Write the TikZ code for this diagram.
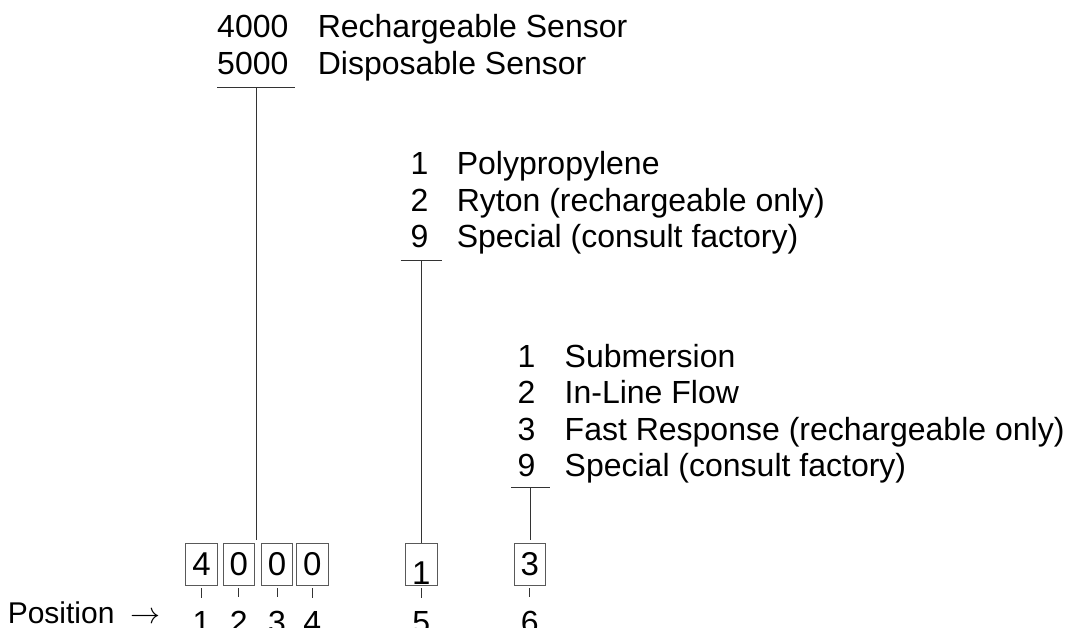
\RequirePackage{fix-cm}
\documentclass[tikz,border=0pt]{standalone}
\usepackage{fontspec}
\setmainfont{Liberation Sans}
\usetikzlibrary{positioning}
\tikzset{
  code/.style={anchor=base east, inner sep=0pt, font=\fontsize{32}{36}\selectfont},
  desc/.style={anchor=base west, inner sep=0pt, font=\fontsize{32}{36}\selectfont},
  digitbox/.style={
    rectangle, draw=black!65, line width=0.9pt,
    minimum width=31.5pt, minimum height=42pt, inner sep=0pt,
    text height=23pt, text depth=0pt,
    font=\fontsize{33}{36}\selectfont
  },
  posnum/.style={anchor=base, inner sep=0pt, font=\fontsize{32}{36}\selectfont},
  leader/.style={black!80, line width=0.9pt}
}

\begin{document}
\begin{tikzpicture}[x=1pt, y=-1pt]
  \useasboundingbox (0,0) rectangle (1068,627);

  % option lists
  \foreach \num/\txt [count=\i] in {4000/Rechargeable Sensor, 5000/Disposable Sensor}{
    \node[code] (sc\i) at (288.6,{37.7+36.4*(\i-1)}) {\num};
    \node[desc] (sd\i) at (317.6,{37.7+36.4*(\i-1)}) {\txt};
  }
  \foreach \num/\txt [count=\i] in {1/Polypropylene, 2/Ryton (rechargeable only), 9/Special (consult factory)}{
    \node[code] (mc\i) at (428.7,{174.3+36.8*(\i-1)}) {\num};
    \node[desc] (md\i) at (456.6,{174.3+36.8*(\i-1)}) {\txt};
  }
  \foreach \num/\txt [count=\i] in {1/Submersion, 2/In-Line Flow, 3/Fast Response (rechargeable only), 9/Special (consult factory)}{
    \node[code] (cc\i) at (535.5,{367.7+36.2*(\i-1)}) {\num};
    \node[desc] (cd\i) at (564.5,{367.7+36.2*(\i-1)}) {\txt};
  }

  % part number boxes
  \node[digitbox] (d1) at (201.6,564) {4};
  \node[digitbox] (d2) at (238.8,564) {0};
  \node[digitbox] (d3) at (277,564) {0};
  \node[digitbox] (d4) at (312.2,564) {0};
  \node[digitbox] (d5) at (421.2,564) {\raisebox{-8.5pt}{1}};
  \node[digitbox] (d6) at (529.8,564) {3};

  % positions
  \node[desc, font=\fontsize{30}{36}\selectfont] (pos) at (7.6,623) {Position\hspace{16pt}$\rightarrow$};
  \foreach \i in {1,...,6}{
    \node[posnum] (p\i) at (d\i.center |- 0,633) {\i};
    \draw[leader, shorten <=3pt, shorten >=13pt] (d\i.south) -- (p\i.north);
  }

  % leaders
  \coordinate (sbar) at (256,87.3);
  \coordinate (mbar) at (421.5,260);
  \coordinate (cbar) at (530.5,487);
  \draw[leader] ([xshift=-38.7pt]sbar) -- ([xshift=38.7pt]sbar);
  \draw[leader] ([xshift=-20.8pt]mbar) -- ([xshift=20.8pt]mbar);
  \draw[leader] ([xshift=-19.5pt]cbar) -- ([xshift=19.5pt]cbar);
  \draw[leader, shorten >=3pt] (sbar) -- (sbar |- d2.north);
  \draw[leader] (mbar) -- (mbar |- d5.north);
  \draw[leader, shorten >=3pt] (cbar) -- (cbar |- d6.north);
\end{tikzpicture}
\end{document}
